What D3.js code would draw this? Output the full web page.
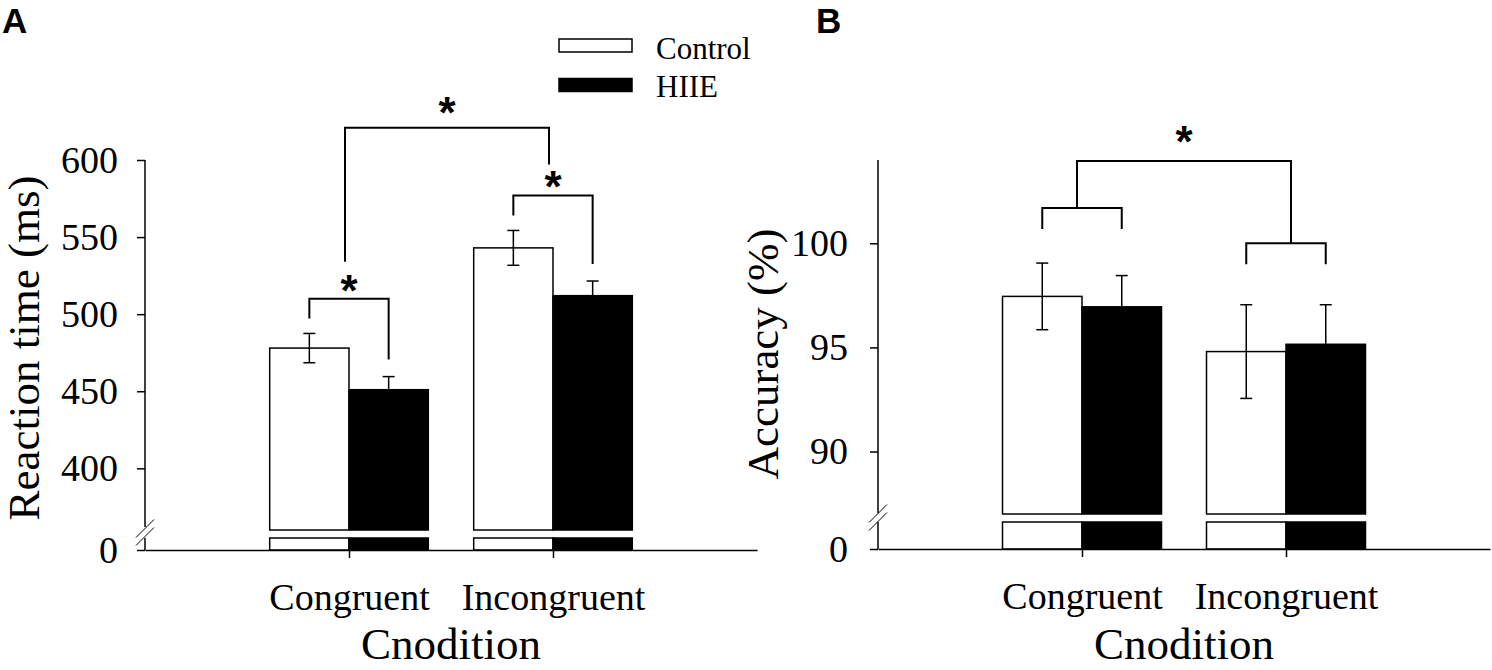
<!DOCTYPE html>
<html><head><meta charset="utf-8">
<script src="https://cdn.jsdelivr.net/npm/d3@7"></script>
<style>html,body{margin:0;padding:0;background:#fff;}</style>
</head><body>
<svg id="chart" width="1492" height="670"></svg>
<script>
// ---------- data ----------
const categories = ["Congruent", "Incongruent"];
const groups = ["Control", "HIIE"];
const rtControl = [478, 543];
const rtHIIE = [451, 512];
const rtControlErr = [9.5, 11.3];
const rtHIIEErr = [8.5, 9.5];
const accControl = [97.45, 94.8];
const accHIIE = [96.95, 95.15];
const accControlErr = [1.6, 2.25];
const accHIIEErr = [1.5, 1.9];
const rtTicks = [400, 450, 500, 550, 600];
const accTicks = [90, 95, 100];
const rtSubLevels = [510, 577];   // significance bracket heights (ms)
const rtTopLevel = 621;
const accSubLevels = [101.7, 100]; // significance bracket heights (%)
const accTopLevel = 103.95;
const xTitle = "Cnodition";
const rtTitle = "Reaction time (ms)";
const accTitle = "Accuracy (%)";

// ---------- drawing ----------
const svg = d3.select("#chart");
svg.append("rect").attr("width", 1492).attr("height", 670).attr("fill", "#fff");
const SERIF = "'Liberation Serif','Times New Roman',serif";
const SANS = "'Liberation Sans',Arial,sans-serif";

function star(g, cx, cy) {
  g.append("text").attr("x", cx).attr("y", cy + 24)
    .attr("text-anchor", "middle").attr("font-family", SANS)
    .attr("font-weight", "bold").attr("font-size", 44).text("*");
}

function panel(o) {
  const g = svg.append("g");
  const x = d3.scalePoint().domain(categories).range([o.x0, o.x1]).padding(1);
  const xs = d3.scaleBand().domain(groups).range([-o.bw, o.bw]).padding(0);
  const y = d3.scaleLinear().domain(o.domain).range([o.yBreak, o.yTop]);
  const yLow = d3.scaleLinear().domain([0, 1]).range([o.yBase, o.lowTop]);

  const rows = [];
  categories.forEach((c, ci) => groups.forEach((s, si) => {
    rows.push({ c, s, v: o.values[si][ci], e: o.errs[si][ci] });
  }));
  const fill = s => s === "Control" ? "#fff" : "#000";

  // bars (upper segment)
  g.selectAll("rect.up").data(rows).join("rect").attr("class", "up")
    .attr("x", d => x(d.c) + xs(d.s)).attr("width", xs.bandwidth())
    .attr("y", d => y(d.v)).attr("height", d => y(o.domain[0]) - y(d.v))
    .attr("fill", d => fill(d.s)).attr("stroke", "#000").attr("stroke-width", 1.5);
  // bars (lower segment below the break)
  g.selectAll("rect.low").data(rows).join("rect").attr("class", "low")
    .attr("x", d => x(d.c) + xs(d.s)).attr("width", xs.bandwidth())
    .attr("y", yLow(1)).attr("height", yLow(0) - yLow(1))
    .attr("fill", d => fill(d.s)).attr("stroke", "#000").attr("stroke-width", 1.5);

  // error bars
  const eb = g.selectAll("g.eb").data(rows).join("g").attr("class", "eb")
    .attr("stroke", "#000").attr("stroke-width", 1.5);
  const cx = d => x(d.c) + xs(d.s) + xs.bandwidth() / 2;
  eb.append("line").attr("x1", cx).attr("x2", cx)
    .attr("y1", d => y(d.v - d.e)).attr("y2", d => y(d.v + d.e));
  eb.append("line").attr("x1", d => cx(d) - 6).attr("x2", d => cx(d) + 6)
    .attr("y1", d => y(d.v + d.e)).attr("y2", d => y(d.v + d.e));
  eb.append("line").attr("x1", d => cx(d) - 6).attr("x2", d => cx(d) + 6)
    .attr("y1", d => y(d.v - d.e)).attr("y2", d => y(d.v - d.e));

  // y axis (upper)
  const ya = g.append("g").attr("transform", `translate(${o.x0},0)`)
    .call(d3.axisLeft(y).tickValues(o.ticks).tickSize(8).tickPadding(o.tickPad).tickFormat(d3.format("d")));
  ya.select(".domain").remove();
  const yl = g.append("g").attr("transform", `translate(${o.x0},0)`)
    .call(d3.axisLeft(yLow).tickValues([0]).tickSize(8).tickPadding(o.tickPad).tickFormat(d3.format("d")));
  yl.select(".domain").remove();
  [ya, yl].forEach(a => {
    a.attr("font-family", SERIF).attr("font-size", 38);
    a.selectAll("line").attr("stroke-width", 1.5);
    a.selectAll("text").attr("fill", "#000");
  });
  // axis line with break
  g.append("line").attr("x1", o.x0).attr("x2", o.x0).attr("y1", o.yTop).attr("y2", o.axisBreakTop)
    .attr("stroke", "#000").attr("stroke-width", 1.5);
  g.append("line").attr("x1", o.x0).attr("x2", o.x0).attr("y1", o.axisBreakBottom).attr("y2", o.yBase)
    .attr("stroke", "#000").attr("stroke-width", 1.5);
  const bm = (o.axisBreakTop + o.axisBreakBottom) / 2;
  [-4, 4].forEach(dy => {
    g.append("line").attr("x1", o.x0 - 9).attr("y1", bm + dy + 9)
      .attr("x2", o.x0 + 9).attr("y2", bm + dy - 9)
      .attr("stroke", "#000").attr("stroke-width", 1);
  });

  // x axis
  const xa = g.append("g").attr("transform", `translate(0,${o.yBase})`)
    .call(d3.axisBottom(x).tickSize(8).tickSizeOuter(0).tickPadding(25));
  xa.attr("font-family", SERIF).attr("font-size", 38);
  xa.selectAll("line,path").attr("stroke-width", 1.5);
  xa.selectAll("text").attr("fill", "#000");

  // titles
  g.append("text").attr("x", (o.x0 + o.x1) / 2).attr("y", 659).attr("text-anchor", "middle")
    .attr("font-family", SERIF).attr("font-size", 45).text(xTitle);
  g.append("text").attr("transform", `translate(${o.yTitleX},${o.yTitleY}) rotate(-90)`)
    .attr("text-anchor", "middle").attr("font-family", SERIF).attr("font-size", 45).text(o.yTitle);

  // significance brackets
  const br = g.append("g").attr("fill", "none").attr("stroke", "#000").attr("stroke-width", 2);
  const barC = (c, s) => x(c) + xs(s) + xs.bandwidth() / 2;
  categories.forEach((c, ci) => {
    const xl = barC(c, "Control"), xr = barC(c, "HIIE");
    const yh = y(o.sub[ci]);
    let legL, legR;
    if (o.mode === "A") {
      legL = y(o.values[0][ci] + o.errs[0][ci]) - 15;
      legR = y(o.values[1][ci] + o.errs[1][ci]) - 17;
    } else {
      legL = yh + 21; legR = yh + 21;
    }
    br.append("path").attr("d", `M${xl},${legL}V${yh}H${xr}V${legR}`);
    if (o.mode === "A") star(g, (xl + xr) / 2, yh - 17);
  });
  const yt = y(o.top);
  const xa0 = x(categories[0]) + o.topOff[0], xa1 = x(categories[1]) + o.topOff[1];
  let l0, l1;
  if (o.mode === "A") { l0 = y(o.sub[0]) - 37; l1 = y(o.sub[1]) - 31; }
  else { l0 = y(o.sub[0]); l1 = y(o.sub[1]); }
  br.append("path").attr("d", `M${xa0},${l0}V${yt}H${xa1}V${l1}`);
  star(g, (xa0 + xa1) / 2, yt - o.topStar);
}

panel({
  mode: "A", x0: 145, x1: 757, bw: 79.3, yTop: 160, yBreak: 530, yBase: 550, lowTop: 538,
  axisBreakTop: 527, axisBreakBottom: 538, domain: [360, 600], ticks: rtTicks, tickPad: 19,
  values: [rtControl, rtHIIE], errs: [rtControlErr, rtHIIEErr],
  sub: rtSubLevels, top: rtTopLevel, topOff: [-4, -4], topStar: 24,
  yTitle: rtTitle, yTitleX: 39, yTitleY: 348
});
panel({
  mode: "B", x0: 878, x1: 1490, bw: 79.5, yTop: 160, yBreak: 514, yBase: 549, lowTop: 522,
  axisBreakTop: 513, axisBreakBottom: 522, domain: [87, 104], ticks: accTicks, tickPad: 22,
  values: [accControl, accHIIE], errs: [accControlErr, accHIIEErr],
  sub: accSubLevels, top: accTopLevel, topOff: [-5, 5], topStar: 28,
  yTitle: accTitle, yTitleX: 778, yTitleY: 354
});

// legend
const lg = svg.append("g");
groups.forEach((s, i) => {
  lg.append("rect").attr("x", 559).attr("y", 39 + i * 39.5).attr("width", 73).attr("height", 13)
    .attr("fill", s === "Control" ? "#fff" : "#000").attr("stroke", "#000").attr("stroke-width", 1.5);
  lg.append("text").attr("x", 656).attr("y", 59 + i * 38).attr("font-family", SERIF)
    .attr("font-size", 31).text(s);
});

// panel letters
svg.append("text").attr("x", 2).attr("y", 33).attr("font-family", SANS).attr("font-weight", "bold")
  .attr("font-size", 35).text("A");
svg.append("text").attr("x", 816).attr("y", 33).attr("font-family", SANS).attr("font-weight", "bold")
  .attr("font-size", 35).text("B");
</script>
</body></html>
